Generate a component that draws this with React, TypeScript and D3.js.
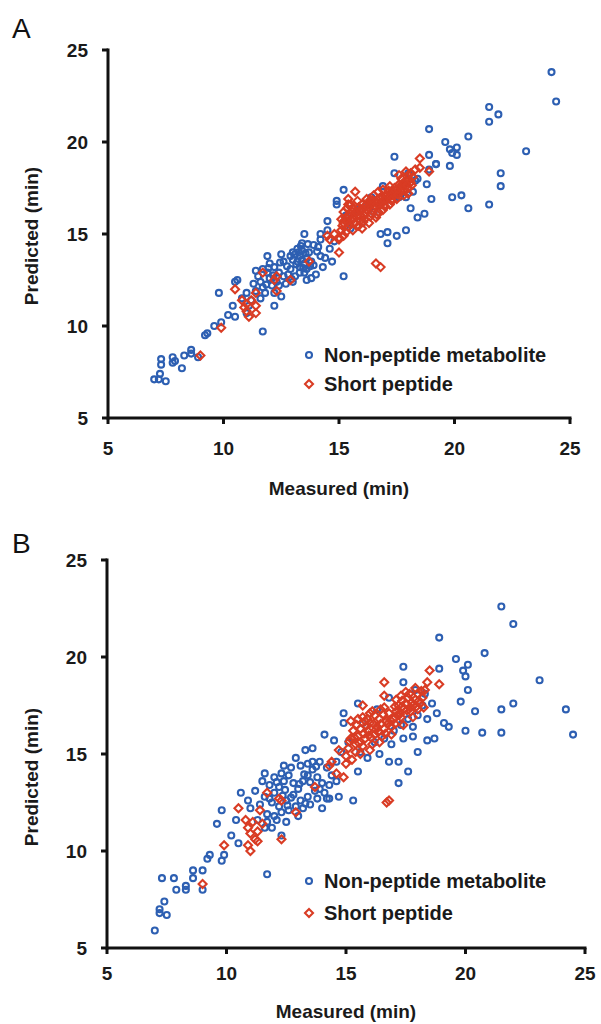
import React from "react";
import * as d3 from "d3";

type Pt = [number, number];

const tickValues = [5, 10, 15, 20, 25];
const xTitle = "Measured (min)";
const yTitle = "Predicted (min)";
const seriesNames = ["Non-peptide metabolite", "Short peptide"];

const nonPeptideA: Pt[] = [
  [24.2, 23.8], [24.4, 22.2], [21.5, 21.9], [21.9, 21.5], [21.5, 21.1], [18.9, 20.7], [23.1, 19.5], [19.6, 20.0],
  [20.6, 20.3], [19.8, 19.6], [20.1, 19.7], [20.1, 19.3], [19.9, 19.4], [19.8, 18.7], [18.9, 19.3], [19.2, 18.8],
  [17.4, 19.2], [22.0, 18.3], [22.0, 17.6], [19.9, 17.0], [20.3, 17.1], [20.6, 16.4], [21.5, 16.6], [19.0, 16.9],
  [18.8, 17.7], [18.2, 17.3], [17.9, 17.0], [18.4, 15.9], [18.7, 16.1], [18.1, 16.4], [17.4, 18.3], [16.8, 15.0],
  [17.1, 15.1], [17.5, 14.9], [17.9, 15.2], [17.1, 14.5], [15.2, 17.4], [14.9, 16.8], [14.9, 16.6], [15.2, 12.7],
  [14.5, 15.7], [14.5, 15.2], [14.2, 14.7], [14.1, 14.3], [14.2, 13.8], [14.7, 13.5], [13.5, 15.0], [13.4, 14.5],
  [13.4, 14.1], [13.0, 14.0], [13.2, 13.5], [13.3, 13.2], [13.5, 13.4], [12.5, 13.9], [11.9, 13.8], [12.0, 13.4],
  [11.4, 13.0], [11.6, 12.4], [11.8, 11.8], [12.2, 11.8], [12.2, 11.1], [10.5, 12.4], [10.6, 12.5], [9.8, 11.8],
  [11.0, 11.8], [11.0, 10.7], [11.1, 11.1], [10.2, 10.6], [10.5, 10.5], [9.6, 10.0], [9.3, 9.6], [9.2, 9.5],
  [9.9, 10.2], [11.7, 9.7], [8.6, 8.7], [8.6, 8.5], [8.9, 8.3], [8.3, 8.4], [7.8, 8.3], [7.8, 8.0],
  [8.2, 7.7], [7.9, 8.1], [7.3, 8.2], [7.3, 7.9], [7.25, 7.4], [7.0, 7.1], [7.2, 7.1], [7.5, 7.0],
  [18.4, 18.0], [18.9, 18.5], [19.2, 18.8],
  [13.0, 13.6], [13.1, 13.9], [13.2, 14.2], [13.3, 13.8], [13.4, 13.6], [13.6, 13.7], [13.7, 14.0], [13.8, 13.5],
  [13.9, 13.3], [13.6, 13.1], [13.3, 12.9], [13.1, 12.7], [12.9, 13.1], [12.8, 12.8], [12.6, 12.7], [12.4, 12.9],
  [12.3, 12.4], [12.0, 12.6], [12.1, 12.2], [11.9, 12.9], [11.7, 13.1], [11.5, 12.7], [11.3, 12.3], [11.4, 11.9],
  [11.6, 11.5], [12.4, 12.2], [12.7, 12.3], [13.0, 12.4], [13.5, 12.9], [13.8, 12.6], [14.0, 12.8], [14.3, 13.2],
  [14.4, 13.7], [13.9, 14.4], [14.2, 15.0], [14.6, 14.2], [14.8, 14.6], [12.6, 13.5], [12.2, 13.2], [11.7, 12.1],
  [11.2, 11.4], [10.8, 11.5], [10.4, 11.1], [12.5, 11.6], [13.6, 12.5],
  [12.9, 13.8], [13.15, 13.35], [13.35, 14.35], [13.55, 13.95], [13.75, 13.25], [13.45, 13.15], [12.75, 13.25],
  [12.45, 13.45], [12.95, 12.55], [12.15, 12.75], [11.85, 12.25], [11.95, 13.15], [13.25, 14.0], [13.65, 14.45],
  [14.05, 14.05],
  [15.8, 16.3], [16.2, 16.6], [16.5, 16.2], [17.0, 16.8], [17.3, 17.3], [17.6, 17.0], [16.0, 15.6], [15.5, 15.3],
  [16.9, 17.6], [17.8, 17.7], [18.3, 17.9], [16.4, 17.0], [15.3, 16.0], [18.0, 18.3],
];

const shortPeptideA: Pt[] = [
  [18.5, 19.1], [18.5, 18.6], [18.9, 18.4], [18.0, 18.2], [15.7, 17.3], [15.4, 16.6], [16.8, 13.2], [16.6, 13.4],
  [15.0, 14.0], [14.6, 14.7], [14.5, 14.9], [14.8, 15.0], [15.0, 14.7], [13.7, 13.5], [12.3, 12.7], [11.7, 12.9],
  [12.2, 12.5], [12.9, 12.5], [12.3, 11.9], [11.4, 11.8], [11.4, 11.1], [11.0, 11.2], [10.9, 11.0], [11.1, 10.5],
  [11.4, 10.7], [10.5, 12.0], [9.9, 9.9], [9.0, 8.4], [11.2, 11.4], [11.0, 10.8], [10.8, 11.4],
  [15.1, 15.2], [15.2, 15.6], [15.3, 15.9], [15.2, 16.2], [15.4, 15.4], [15.5, 15.8], [15.5, 16.1], [15.6, 16.4],
  [15.7, 15.6], [15.8, 16.0], [15.9, 16.3], [16.0, 16.6], [15.6, 15.2], [15.9, 15.7], [16.1, 16.0], [16.2, 16.3],
  [16.3, 16.7], [16.1, 15.8], [16.4, 16.1], [16.5, 16.4], [16.6, 16.8], [16.4, 16.6], [16.7, 16.2], [16.8, 16.6],
  [16.9, 17.0], [17.0, 16.5], [17.1, 16.9], [17.2, 17.2], [17.3, 16.8], [17.4, 17.1], [17.5, 17.4], [17.6, 17.7],
  [17.4, 17.5], [17.7, 17.3], [17.8, 17.6], [17.9, 17.9], [18.0, 17.5], [18.1, 17.8], [18.2, 18.1], [17.7, 18.0],
  [16.2, 16.9], [15.8, 16.8], [15.4, 16.9], [15.0, 14.8], [15.2, 14.9], [15.3, 15.1], [16.0, 15.3], [16.3, 15.6],
  [16.6, 15.9], [16.9, 16.3], [17.2, 16.6], [17.5, 16.9], [17.8, 17.1], [18.0, 17.2], [16.5, 17.1], [16.9, 17.4],
  [17.2, 17.6], [17.6, 18.2], [17.9, 18.4], [16.7, 17.3], [16.1, 16.5], [15.7, 16.2], [15.45, 15.55], [15.35, 16.4],
  [15.95, 15.95], [16.45, 16.25], [16.85, 16.75], [17.35, 17.25], [17.65, 17.55], [18.15, 17.65], [17.05, 17.1],
  [16.55, 16.55], [16.15, 16.15],
  [15.15, 15.45], [15.25, 15.75], [15.35, 15.65], [15.45, 15.95], [15.55, 16.25], [15.65, 15.85], [15.75, 16.15],
  [15.85, 16.45], [15.95, 16.25], [16.05, 16.35], [16.25, 16.45], [16.35, 16.85], [16.45, 16.85], [16.65, 16.65],
  [16.75, 16.95], [16.95, 16.85], [17.15, 17.35], [17.45, 17.35], [17.55, 17.15], [17.75, 17.75], [17.85, 17.35],
  [17.95, 17.65], [18.05, 17.95], [16.35, 15.95], [16.05, 15.65], [15.85, 15.45], [16.65, 16.05], [16.95, 16.55],
  [17.25, 16.85], [17.55, 17.45], [18.1, 18.3], [18.3, 18.5], [15.1, 15.8], [15.5, 16.6],
];

const nonPeptideB: Pt[] = [
  [21.5, 22.6], [22.0, 21.7], [18.9, 21.0], [20.8, 20.2], [19.6, 19.9], [20.1, 19.6], [19.9, 19.3], [20.0, 19.0],
  [20.1, 18.3], [23.1, 18.8], [24.2, 17.3], [24.5, 16.0], [22.0, 17.6], [21.5, 17.3], [21.5, 16.1], [20.7, 16.1],
  [20.0, 16.2], [20.4, 17.2], [19.8, 17.7], [17.4, 19.5], [18.9, 19.4], [17.4, 18.7], [18.8, 17.1], [19.1, 16.6],
  [19.3, 16.4], [18.4, 15.7], [18.7, 15.8], [18.0, 15.1], [17.6, 14.1], [17.2, 13.5], [16.8, 14.6], [17.2, 14.6],
  [17.4, 15.8], [17.8, 15.9], [15.5, 17.6], [14.9, 17.1], [14.9, 16.6], [14.1, 16.0], [14.5, 15.7], [13.6, 15.3],
  [15.5, 14.1], [14.7, 12.8], [15.3, 12.6], [14.3, 12.7], [14.0, 12.2], [13.1, 14.4], [13.4, 14.5], [13.6, 14.6],
  [12.4, 14.4], [11.6, 14.0], [12.0, 13.8], [10.6, 13.0], [11.0, 12.2], [9.8, 12.1], [9.6, 11.4], [10.2, 10.8],
  [10.5, 10.4], [9.9, 9.8], [9.8, 9.5], [9.2, 9.6], [9.3, 9.8], [11.7, 8.8], [12.3, 10.8], [11.9, 11.2],
  [11.7, 11.5], [12.1, 11.6], [8.6, 9.0], [9.0, 9.0], [8.6, 8.6], [9.0, 8.0], [8.3, 8.2], [7.9, 8.0],
  [8.3, 8.0], [7.8, 8.6], [7.3, 8.6], [7.4, 7.4], [7.2, 7.0], [7.2, 6.8], [7.5, 6.7], [7.0, 5.9],
  [11.8, 13.4], [12.0, 13.0], [12.2, 13.3], [12.4, 13.6], [12.6, 13.9], [12.8, 13.5], [13.0, 13.2], [13.2, 13.6],
  [13.4, 13.9], [13.6, 14.2], [13.8, 13.8], [14.0, 13.5], [13.7, 13.1], [13.4, 12.8], [13.1, 12.6], [12.8, 12.9],
  [12.5, 12.6], [12.2, 12.3], [11.9, 12.5], [11.6, 12.8], [11.4, 12.4], [11.7, 11.9], [12.0, 11.8], [12.3, 12.0],
  [12.6, 12.1], [12.9, 12.3], [13.2, 12.2], [13.5, 12.4], [13.8, 12.7], [14.1, 13.0], [14.3, 13.4], [14.4, 13.9],
  [14.2, 14.3], [13.9, 14.6], [12.7, 14.3], [12.3, 14.0], [11.5, 13.6], [11.2, 13.1], [11.3, 11.6], [11.6, 11.2],
  [12.5, 11.5], [13.0, 11.8], [14.6, 14.6], [14.8, 15.1], [15.1, 15.6], [14.6, 13.6], [10.9, 12.6], [10.4, 11.6],
  [12.9, 14.8], [13.3, 15.2],
  [12.1, 13.55], [12.45, 13.15], [12.7, 12.75], [13.05, 13.45], [13.25, 13.95], [13.5, 13.55], [13.75, 14.35],
  [13.9, 13.2], [12.35, 12.85], [11.8, 12.7], [12.55, 12.35], [13.3, 12.45], [14.2, 12.7],
  [16.2, 15.6], [16.6, 15.8], [17.0, 16.2], [17.3, 16.5], [17.6, 16.8], [18.0, 17.0], [18.2, 17.5], [18.4, 16.8],
  [17.8, 16.4], [16.9, 15.5], [16.4, 15.0], [15.9, 14.8], [15.6, 15.1], [18.3, 18.1], [18.6, 17.6], [17.9, 18.3],
  [16.8, 17.9], [16.3, 17.3], [15.7, 16.6],
];

const shortPeptideB: Pt[] = [
  [18.5, 19.3], [18.4, 18.7], [18.9, 18.6], [16.6, 18.7], [16.6, 18.0], [15.7, 17.5], [16.1, 17.2], [15.9, 16.8],
  [15.5, 16.8], [16.8, 12.6], [16.7, 12.5], [14.7, 15.2], [14.4, 14.6], [15.0, 14.5], [14.9, 13.8], [14.3, 14.4],
  [14.6, 14.0], [13.7, 13.3], [11.7, 13.0], [12.2, 12.7], [12.3, 12.6], [12.9, 12.0], [11.4, 12.1], [10.5, 12.2],
  [10.8, 11.6], [10.9, 11.2], [11.0, 10.9], [11.2, 10.6], [11.3, 11.0], [11.5, 11.4], [10.9, 10.3], [11.0, 10.0],
  [11.3, 10.5], [12.3, 10.6], [9.9, 10.3], [9.0, 8.3], [11.1, 11.5],
  [15.1, 15.3], [15.2, 15.8], [15.3, 16.2], [15.4, 15.5], [15.5, 15.9], [15.6, 16.3], [15.7, 15.4], [15.8, 15.8],
  [15.9, 16.2], [16.0, 16.6], [16.1, 15.5], [16.2, 16.0], [16.3, 16.4], [16.4, 16.8], [16.5, 15.9], [16.6, 16.3],
  [16.7, 16.7], [16.8, 17.1], [16.9, 16.4], [17.0, 16.8], [17.1, 17.2], [17.2, 17.5], [17.3, 16.9], [17.4, 17.3],
  [17.5, 17.6], [17.6, 17.9], [17.7, 17.2], [17.8, 17.5], [17.9, 17.8], [18.0, 18.1], [18.1, 17.6], [18.2, 17.9],
  [17.5, 18.2], [17.1, 17.8], [16.6, 17.4], [16.2, 17.0], [15.8, 16.7], [15.4, 15.1], [15.0, 14.9], [16.0, 15.2],
  [16.4, 15.6], [16.9, 16.0], [17.4, 16.5], [17.8, 16.9], [18.0, 17.3], [15.6, 15.0], [15.25, 14.7], [16.15, 16.55],
  [16.55, 17.05], [17.05, 17.45], [17.35, 17.75], [17.65, 18.1], [15.95, 15.95], [16.35, 16.15], [16.75, 16.55],
  [17.25, 17.05], [17.7, 17.4], [18.15, 18.25], [15.45, 16.5], [15.2, 16.7],
  [15.15, 15.65], [15.35, 15.85], [15.55, 15.55], [15.75, 16.05], [15.85, 16.45], [16.05, 15.85], [16.25, 16.25],
  [16.45, 16.55], [16.65, 16.05], [16.85, 16.75], [17.05, 16.55], [17.15, 17.0], [17.35, 17.45], [17.55, 17.25],
  [17.75, 17.65], [17.95, 17.45], [18.05, 17.75], [18.25, 17.4], [16.45, 17.3], [16.0, 17.1], [15.7, 16.9],
  [17.3, 18.0], [17.9, 18.4], [18.3, 18.3],
];

const BLUE = "#2d5fb2";
const RED = "#d93c24";
const FONT = "'Liberation Sans', Arial, Helvetica, sans-serif";

type PanelCfg = {
  label: string;
  labelY: number;
  x0: number; x1: number; y0: number; y1: number;
  tickLabelY: number;
  xTitleY: number;
  yTitleX: number;
  yTitleY: number;
  legendX: number;
  legendY1: number;
  legendY2: number;
  blue: Pt[];
  red: Pt[];
};

function Panel({ cfg }: { cfg: PanelCfg }) {
  const x = d3.scaleLinear().domain([5, 25]).range([cfg.x0, cfg.x1]);
  const y = d3.scaleLinear().domain([5, 25]).range([cfg.y0, cfg.y1]);
  const diamond = (cx: number, cy: number, r: number) =>
    `M${cx},${cy - r}L${cx + r},${cy}L${cx},${cy + r}L${cx - r},${cy}Z`;
  return (
    <g>
      <text x={12} y={cfg.labelY} fontFamily={FONT} fontSize={28} fill="#111">{cfg.label}</text>
      {cfg.blue.map((d, i) => (
        <circle key={"b" + i} cx={x(d[0])} cy={y(d[1])} r={3} fill="none" stroke={BLUE} strokeWidth={2.1} />
      ))}
      {cfg.red.map((d, i) => (
        <path key={"r" + i} d={diamond(x(d[0]), y(d[1]), 4)} fill="none" stroke={RED} strokeWidth={2.1} />
      ))}
      <line x1={cfg.x0} x2={cfg.x1 + 1.5} y1={cfg.y0} y2={cfg.y0} stroke="#111" strokeWidth={3} />
      <line x1={cfg.x0} x2={cfg.x0} y1={cfg.y0 + 1.5} y2={cfg.y1 - 1.5} stroke="#111" strokeWidth={3} />
      {tickValues.map((t) => (
        <g key={"xt" + t}>
          <line x1={x(t)} x2={x(t)} y1={cfg.y0} y2={cfg.y0 + 6} stroke="#111" strokeWidth={3} />
          <text x={x(t)} y={cfg.tickLabelY} textAnchor="middle" fontFamily={FONT} fontWeight="bold" fontSize={19} fill="#1a1a1a">{t}</text>
        </g>
      ))}
      {tickValues.map((t) => (
        <g key={"yt" + t}>
          <line x1={cfg.x0 - 6} x2={cfg.x0} y1={y(t)} y2={y(t)} stroke="#111" strokeWidth={3} />
          <text x={cfg.x0 - 20} y={y(t)} dy="0.35em" textAnchor="end" fontFamily={FONT} fontWeight="bold" fontSize={19} fill="#1a1a1a">{t}</text>
        </g>
      ))}
      <text x={(cfg.x0 + cfg.x1) / 2} y={cfg.xTitleY} textAnchor="middle" fontFamily={FONT} fontWeight="bold" fontSize={19} fill="#1a1a1a">{xTitle}</text>
      <text transform={`translate(${cfg.yTitleX},${cfg.yTitleY}) rotate(-90)`} textAnchor="middle" fontFamily={FONT} fontWeight="bold" fontSize={19} fill="#1a1a1a">{yTitle}</text>
      <circle cx={cfg.legendX} cy={cfg.legendY1 - 7} r={3} fill="none" stroke={BLUE} strokeWidth={2.1} />
      <text x={cfg.legendX + 15} y={cfg.legendY1} fontFamily={FONT} fontWeight="bold" fontSize={20} fill="#1a1a1a">{seriesNames[0]}</text>
      <path d={diamond(cfg.legendX, cfg.legendY2 - 7, 4)} fill="none" stroke={RED} strokeWidth={2.1} />
      <text x={cfg.legendX + 15} y={cfg.legendY2} fontFamily={FONT} fontWeight="bold" fontSize={20} fill="#1a1a1a">{seriesNames[1]}</text>
    </g>
  );
}

const panelA: PanelCfg = {
  label: "A", labelY: 38,
  x0: 108, x1: 570, y0: 418, y1: 50,
  tickLabelY: 455, xTitleY: 495, yTitleX: 38, yTitleY: 236,
  legendX: 309, legendY1: 362, legendY2: 391,
  blue: nonPeptideA, red: shortPeptideA,
};

const panelB: PanelCfg = {
  label: "B", labelY: 553,
  x0: 107, x1: 585, y0: 948, y1: 560,
  tickLabelY: 980, xTitleY: 1018, yTitleX: 38, yTitleY: 777,
  legendX: 309, legendY1: 888, legendY2: 920,
  blue: nonPeptideB, red: shortPeptideB,
};

export default function App() {
  return (
    <svg width={601} height={1024} style={{ position: "absolute", left: 0, top: 0, background: "#fff" }}>
      <rect width={601} height={1024} fill="#fff" />
      <Panel cfg={panelA} />
      <Panel cfg={panelB} />
    </svg>
  );
}
